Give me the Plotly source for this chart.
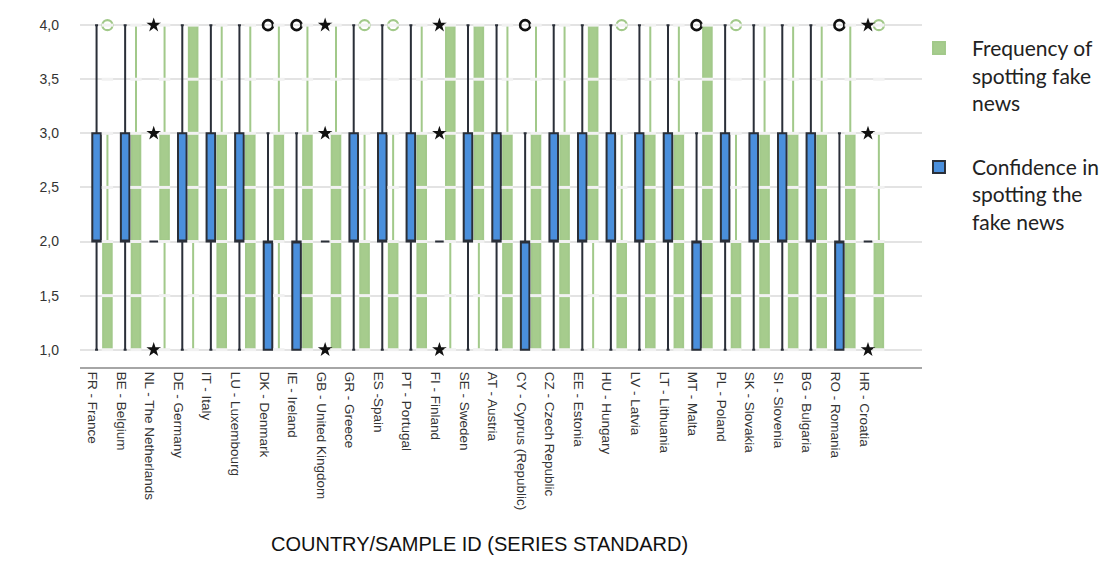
import numpy as np
import plotly.graph_objects as go

# ---- data -------------------------------------------------------------
countries = [
    "FR - France", "BE - Belgium", "NL - The Netherlands", "DE - Germany",
    "IT - Italy", "LU - Luxembourg", "DK - Denmark", "IE - Ireland",
    "GB - United Kingdom", "GR - Greece", "ES -Spain", "PT - Portugal",
    "FI - Finland", "SE - Sweden", "AT - Austria", "CY - Cyprus (Republic)",
    "CZ - Czech Republic", "EE - Estonia", "HU - Hungary", "LV - Latvia",
    "LT - Lithuania", "MT - Malta", "PL - Poland", "SK - Slovakia",
    "SI - Slovenia", "BG - Bulgaria", "RO - Romania", "HR - Croatia",
]

# Confidence in spotting the fake news (blue boxes)
conf_low = [1, 1, 2, 1, 1, 1, 1, 1, 2, 1, 1, 1, 2, 1, 1, 1, 1, 1, 1, 1, 1, 1, 1, 1, 1, 1, 1, 2]
conf_q1 = [2, 2, 2, 2, 2, 2, 1, 1, 2, 2, 2, 2, 2, 2, 2, 1, 2, 2, 2, 2, 2, 1, 2, 2, 2, 2, 1, 2]
conf_med = [2, 2, 2, 2, 2, 2, 2, 2, 2, 2, 2, 2, 2, 2, 2, 2, 2, 2, 2, 2, 2, 2, 2, 2, 2, 2, 2, 2]
conf_q3 = [3, 3, 2, 3, 3, 3, 2, 2, 2, 3, 3, 3, 2, 3, 3, 2, 3, 3, 3, 3, 3, 2, 3, 3, 3, 3, 2, 2]
conf_high = [4, 4, 2, 4, 4, 4, 3, 3, 2, 4, 4, 4, 2, 4, 4, 3, 4, 4, 4, 4, 4, 3, 4, 4, 4, 4, 3, 2]

# outliers (o) and extreme values (*) of the confidence series
conf_outlier_country = ["DK - Denmark", "IE - Ireland", "CY - Cyprus (Republic)",
                        "MT - Malta", "RO - Romania"]
conf_outlier_value = [4, 4, 4, 4, 4]
conf_extreme_country = ["NL - The Netherlands"] * 3 + ["GB - United Kingdom"] * 3 + \
                       ["FI - Finland"] * 3 + ["HR - Croatia"] * 3
conf_extreme_value = [1, 3, 4] * 4

# Frequency of spotting fake news (green boxes)
freq_low = [1] * 28
freq_q1 = [1, 1, 2, 2, 1, 1, 2, 1, 1, 1, 1, 1, 2, 2, 1, 1, 1, 2, 1, 1, 1, 1, 1, 1, 1, 1, 1, 1]
freq_med = [1, 2, 2, 3, 2, 2, 2, 2, 2, 1, 1, 2, 3, 3, 2, 2, 2, 3, 1, 2, 2, 2, 1, 2, 2, 2, 2, 1]
freq_q3 = [2, 3, 3, 4, 3, 3, 3, 3, 3, 2, 2, 3, 4, 4, 3, 3, 3, 4, 2, 3, 3, 4, 2, 3, 3, 3, 3, 2]
freq_high = [3, 4, 4, 4, 4, 4, 4, 4, 4, 3, 3, 4, 4, 4, 4, 4, 4, 4, 3, 4, 4, 4, 3, 4, 4, 4, 4, 3]

freq_outlier_country = ["FR - France", "GR - Greece", "ES -Spain", "HU - Hungary",
                        "PL - Poland", "HR - Croatia"]
freq_outlier_value = [4, 4, 4, 4, 4, 4]

y_ticks = [1.0, 1.5, 2.0, 2.5, 3.0, 3.5, 4.0]

# ---- layout constants ---------------------------------------------------
X_RANGE = [-0.77, 28.7]
Y_RANGE = [0.84, 4.14]
OFFSET = 0.19
BOX_W = 0.3
RULE_HALF = 0.2

BLUE_FILL = "#4a8fdc"
BLUE_LINE = "#2a2f38"
GREEN_FILL = "#a6cc8d"
GREEN_LINE = "#a2c98a"
GRID = "#e3e3e3"
RULE = "#f1f1f1"

pos = {c: i for i, c in enumerate(countries)}
idx = np.arange(len(countries))
blue_x = idx - OFFSET
green_x = idx + OFFSET

fig = go.Figure()

# green boxes
fig.add_trace(go.Box(
    x=green_x, q1=freq_q1, median=freq_med, q3=freq_q3,
    lowerfence=freq_low, upperfence=freq_high,
    width=BOX_W, whiskerwidth=0, boxpoints=False,
    fillcolor=GREEN_FILL, line=dict(color=GREEN_LINE, width=2),
    name="Frequency of<br>spotting fake<br>news", legendrank=1,
    legendgroup="freq", hoverinfo="skip",
))
fig.add_trace(go.Scatter(
    x=[pos[c] + OFFSET for c in freq_outlier_country], y=freq_outlier_value,
    mode="markers", showlegend=False, hoverinfo="skip",
    marker=dict(symbol="circle-open", size=10, color=GREEN_LINE,
                line=dict(width=2.2, color=GREEN_LINE)),
))

# blue boxes with their outliers (o) and extremes (*)
fig.add_trace(go.Box(
    x=blue_x, q1=conf_q1, median=conf_med, q3=conf_q3,
    lowerfence=conf_low, upperfence=conf_high,
    width=BOX_W, whiskerwidth=0.35, boxpoints=False,
    fillcolor=BLUE_FILL, line=dict(color=BLUE_LINE, width=2),
    name="Confidence in<br>spotting the<br>fake news", legendrank=2,
    legendgroup="conf", hoverinfo="skip",
))
fig.add_trace(go.Scatter(
    x=[pos[c] - OFFSET for c in conf_outlier_country], y=conf_outlier_value,
    mode="markers", showlegend=False, hoverinfo="skip",
    marker=dict(symbol="circle-open", size=10, color="#111111",
                line=dict(width=2.6, color="#111111")),
))
fig.add_trace(go.Scatter(
    x=[pos[c] - OFFSET for c in conf_extreme_country], y=conf_extreme_value,
    mode="markers", showlegend=False, hoverinfo="skip",
    marker=dict(symbol="star", size=11, color="#111111",
                line=dict(width=0)),
))

# grid rules continue across the green columns (drawn above them)
rules = []
for gxv in green_x:
    for v in y_ticks:
        rules.append(dict(
            type="line", xref="x", yref="y", layer="above",
            x0=gxv - RULE_HALF, x1=gxv + RULE_HALF, y0=v, y1=v,
            line=dict(color=RULE, width=3),
        ))

fig.update_layout(
    width=1113, height=561,
    margin=dict(l=80, r=190, t=10, b=193.5),
    paper_bgcolor="white", plot_bgcolor="white",
    separators=",.",
    font=dict(family="Liberation Sans, Arial, sans-serif", color="#333333"),
    shapes=rules,
    xaxis=dict(
        range=X_RANGE, tickmode="array", tickvals=idx - 0.33, ticktext=countries,
        tickangle=90, tickfont=dict(size=13.5, color="#333333"),
        showgrid=False, zeroline=False, ticks="",
        showline=True, linecolor="#a6a6a6", linewidth=2,
    ),
    yaxis=dict(
        range=Y_RANGE, tickmode="array", tickvals=y_ticks, tickformat=".1f",
        tickfont=dict(size=14, color="#333333"), ticklabelstandoff=20,
        showgrid=True, gridcolor=GRID, gridwidth=1.5,
        zeroline=False, showline=False, ticks="",
    ),
    showlegend=True,
    legend=dict(
        x=0.9798, y=0.95, xanchor="left", yanchor="top",
        font=dict(family="Lato, sans-serif", size=21, color="#222222"),
        valign="top", tracegroupgap=34, traceorder="grouped",
        itemwidth=56, bgcolor="rgba(0,0,0,0)",
    ),
    annotations=[dict(
        text="COUNTRY/SAMPLE ID (SERIES STANDARD)",
        xref="paper", yref="paper", x=0.4745, y=-0.4965,
        xanchor="center", yanchor="middle", showarrow=False,
        font=dict(size=20, color="#111111", family="Liberation Sans, Arial, sans-serif"),
    )],
)

fig.write_html("out.html")
